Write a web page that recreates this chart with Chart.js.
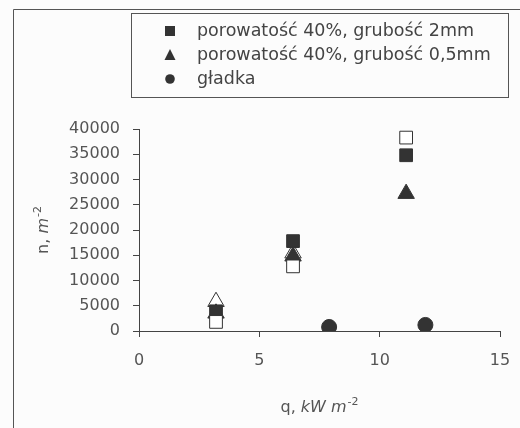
<!DOCTYPE html>
<html>
<head>
<meta charset="utf-8">
<script src="https://cdn.jsdelivr.net/npm/chart.js@4/dist/chart.umd.min.js"></script>
<style>
  body { margin: 0; background: #fcfcfc; }
</style>
</head>
<body>
<canvas id="chartN" width="520" height="428"></canvas>
<script>
// data
const seriesLabels = ['porowatość 40%, grubość 2mm', 'porowatość 40%, grubość 0,5mm', 'gładka'];

const qSquare = [3.2, 6.4, 11.1];
const nSquare = [3900, 17800, 34800];
const qTriangle = [3.2, 6.4, 11.1];
const nTriangle = [3500, 14800, 27200];
const qSmooth = [7.9, 11.9];
const nSmooth = [800, 1200];

// unlabelled open markers
const qOpenSquare = [3.2, 6.4, 11.1];
const nOpenSquare = [1800, 12800, 38300];
const qOpenTriangle = [3.2, 6.4];
const nOpenTriangle = [5800, 15400];

const xTicks = [0, 5, 10, 15];
const yTicks = [0, 5000, 10000, 15000, 20000, 25000, 30000, 35000, 40000];

const ink = '#333';
const textCol = '#555';

function toPoints(xs, ys) {
  const pts = [];
  for (let i = 0; i < xs.length; i++) {
    pts.push({x: xs[i], y: ys[i]});
  }
  return pts;
}

function makeSet(label, xs, ys, style, filled, r) {
  return {
    label: label,
    data: toPoints(xs, ys),
    pointStyle: style,
    pointRadius: r,
    pointHoverRadius: r,
    pointBackgroundColor: filled ? ink : '#fff',
    pointBorderColor: ink,
    pointBorderWidth: 1,
    showLine: false
  };
}

// custom frame, legend box and axis titles
const decor = {
  id: 'decor',
  beforeDraw(chart) {
    const ctx = chart.ctx;
    ctx.save();
    ctx.fillStyle = '#fcfcfc';
    ctx.fillRect(0, 0, chart.width, chart.height);
    ctx.strokeStyle = '#555';
    ctx.lineWidth = 1;
    ctx.beginPath();
    ctx.moveTo(13.5, chart.height);
    ctx.lineTo(13.5, 9.5);
    ctx.lineTo(chart.width, 9.5);
    ctx.stroke();
    ctx.restore();
  },
  afterDraw(chart) {
    const ctx = chart.ctx;
    ctx.save();
    // legend
    ctx.strokeStyle = '#555';
    ctx.lineWidth = 1;
    ctx.strokeRect(131.5, 13.5, 377, 84);
    const rows = [31, 55, 79];
    ctx.fillStyle = ink;
    // square
    ctx.fillRect(165, rows[0] - 5, 10, 10);
    // triangle
    ctx.beginPath();
    ctx.moveTo(170, rows[1] - 6);
    ctx.lineTo(175.5, rows[1] + 5);
    ctx.lineTo(164.5, rows[1] + 5);
    ctx.closePath();
    ctx.fill();
    // circle
    ctx.beginPath();
    ctx.arc(170, rows[2], 4.8, 0, Math.PI * 2);
    ctx.fill();
    ctx.font = '17.5px "DejaVu Sans"';
    ctx.fillStyle = '#444';
    ctx.textBaseline = 'middle';
    for (let i = 0; i < seriesLabels.length; i++) {
      ctx.fillText(seriesLabels[i], 197, rows[i]);
    }

    // axis titles
    const a = chart.chartArea;
    drawTitle(ctx, [['q, ', false], ['kW m', true]], '-2', (a.left + a.right) / 2, 408, 0);
    drawTitle(ctx, [['n, ', false], ['m', true]], '-2', 44, (a.top + a.bottom) / 2, -Math.PI / 2);
    ctx.restore();
  }
};

function drawTitle(ctx, parts, sup, cx, cy, rot) {
  const base = '16px "DejaVu Sans"';
  const ital = 'italic 16px "DejaVu Sans"';
  const small = '11px "DejaVu Sans"';
  let w = 0;
  parts.forEach(p => { ctx.font = p[1] ? ital : base; w += ctx.measureText(p[0]).width; });
  ctx.font = small;
  w += ctx.measureText(sup).width + 1;
  ctx.save();
  ctx.translate(cx, cy);
  ctx.rotate(rot);
  ctx.fillStyle = textCol;
  ctx.textBaseline = 'middle';
  let x = -w / 2;
  parts.forEach(p => {
    ctx.font = p[1] ? ital : base;
    ctx.fillText(p[0], x, 0);
    x += ctx.measureText(p[0]).width;
  });
  ctx.font = small;
  ctx.fillText(sup, x + 1, -6);
  ctx.restore();
}

const canvas = document.getElementById('chartN');
new Chart(canvas, {
  type: 'scatter',
  data: {
    // first dataset is drawn on top
    datasets: [
      makeSet('open square', qOpenSquare, nOpenSquare, 'rect', false, 9),
      makeSet(seriesLabels[0], qSquare, nSquare, 'rect', true, 9),
      makeSet(seriesLabels[1], qTriangle, nTriangle, 'triangle', true, 9.5),
      makeSet('open triangle', qOpenTriangle, nOpenTriangle, 'triangle', false, 9.5),
      makeSet(seriesLabels[2], qSmooth, nSmooth, 'circle', true, 7.5)
    ]
  },
  options: {
    responsive: false,
    animation: false,
    layout: {
      padding: {top: 129, right: 20, left: 0, bottom: 0}
    },
    plugins: {
      legend: {display: false},
      tooltip: {enabled: false}
    },
    scales: {
      x: {
        type: 'linear',
        min: 0,
        max: 15,
        afterFit: s => {
          s.height = 97;
          s.paddingLeft = 0;
          s.paddingRight = 10;
        },
        afterBuildTicks: s => { s.ticks = xTicks.map(v => ({value: v})); },
        grid: {drawOnChartArea: false, drawTicks: true, tickLength: 6, color: '#444'},
        border: {color: '#444', width: 1},
        ticks: {
          color: textCol,
          padding: 14,
          font: {family: 'DejaVu Sans', size: 16},
          callback: v => String(v)
        }
      },
      y: {
        min: 0,
        max: 40000,
        afterFit: s => { s.width = 139; },
        afterBuildTicks: s => { s.ticks = yTicks.map(v => ({value: v})); },
        grid: {drawOnChartArea: false, drawTicks: true, tickLength: 6, color: '#444'},
        border: {color: '#444', width: 1},
        ticks: {
          color: textCol,
          padding: 13,
          font: {family: 'DejaVu Sans', size: 16},
          callback: v => String(v)
        }
      }
    }
  },
  plugins: [decor]
});
</script>
</body>
</html>
